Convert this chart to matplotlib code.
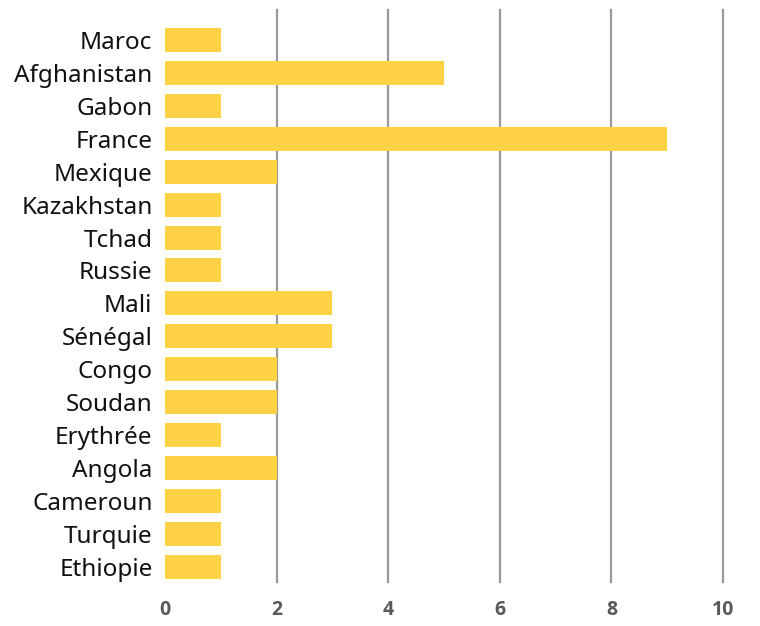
import matplotlib
matplotlib.use("Agg")
import matplotlib.pyplot as plt

countries = ["Maroc", "Afghanistan", "Gabon", "France", "Mexique", "Kazakhstan",
             "Tchad", "Russie", "Mali", "Sénégal", "Congo", "Soudan", "Erythrée",
             "Angola", "Cameroun", "Turquie", "Ethiopie"]
counts = [1, 5, 1, 9, 2, 1, 1, 1, 3, 3, 2, 2, 1, 2, 1, 1, 1]
xticks = [0, 2, 4, 6, 8, 10]

plt.rcParams["font.family"] = ["Noto Sans", "DejaVu Sans"]

fig = plt.figure(figsize=(7.6, 6.26), dpi=100)
ax = fig.add_axes([165 / 760, 1 - 582 / 626, (723 - 165) / 760, (582 - 10) / 626])

pos = list(range(len(countries)))
ax.barh(pos, counts, height=0.73, color="#FFD145", zorder=2)

ax.set_xlim(0, 10)
ax.set_ylim(16.46, -0.91)
ax.set_yticks(pos)
ax.set_yticklabels(countries, fontsize=17.5, color="#111111")
ax.set_xticks(xticks)
ax.set_xticklabels([str(t) for t in xticks], fontsize=14, fontweight="bold",
                   color="#595959", family=["Open Sans", "DejaVu Sans"])

for t in xticks[1:]:
    ax.axvline(t, color="#999999", linewidth=1.6, zorder=1, clip_on=False)

for s in ax.spines.values():
    s.set_visible(False)
ax.tick_params(axis="both", length=0)
ax.tick_params(axis="x", pad=13)
ax.tick_params(axis="y", pad=9)

fig.savefig("out.png", dpi=100)
